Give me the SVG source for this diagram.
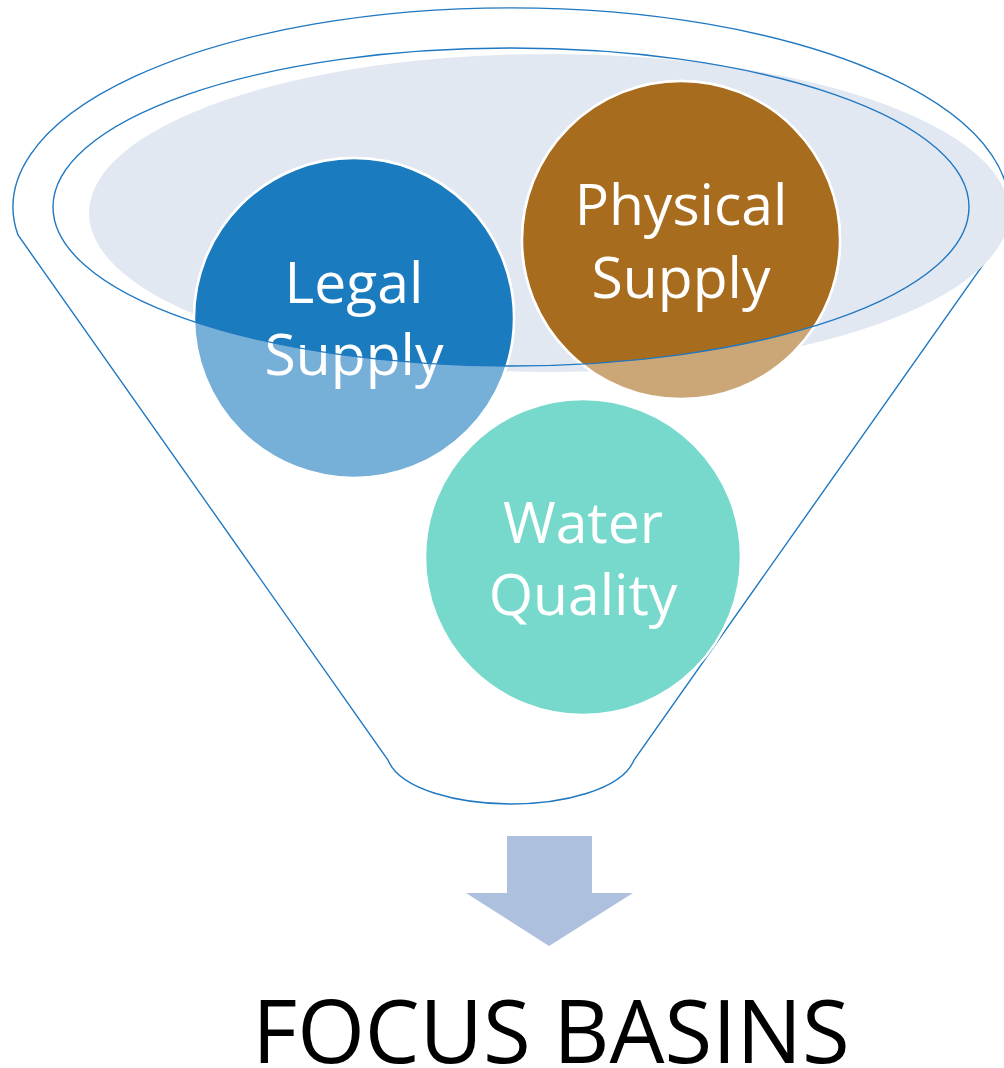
<svg xmlns="http://www.w3.org/2000/svg" width="1004" height="1068" viewBox="0 0 1004 1068">
  <style>
    .line { fill: none; stroke: #1f78c1; stroke-width: 1.4; }
    .lbl { font-family: "Open Sans", "Noto Sans", sans-serif; font-size: 57px; fill: #ffffff; text-anchor: middle; }
    .circ { stroke: #ffffff; stroke-width: 2.5; }
  </style>
  <defs>
    <clipPath id="inner">
      <ellipse cx="511" cy="207" rx="458" ry="159"/>
    </clipPath>
  </defs>
  <rect width="1004" height="1068" fill="#ffffff"/>
  <g id="funnel">
    <path class="line" d="M 18,235 A 498 199 0 1 1 1004,235 L 634,760 C 622,790 562,804 511,804 C 460,804 400,790 388,760 Z"/>
    <ellipse cx="549" cy="213" rx="460" ry="159" fill="#e2e8f2"/>
  </g>
  <g id="legal-supply">
    <circle class="circ" cx="354" cy="318" r="160" fill="#76b0d8"/>
    <circle class="circ" cx="354" cy="318" r="160" fill="#1b7bbf" clip-path="url(#inner)"/>
    <text class="lbl" x="354" y="303">Legal</text>
    <text class="lbl" x="354" y="375">Supply</text>
  </g>
  <g id="physical-supply">
    <circle class="circ" cx="681" cy="240" r="159" fill="#cba677"/>
    <circle class="circ" cx="681" cy="240" r="159" fill="#a86c1e" clip-path="url(#inner)"/>
    <text class="lbl" x="681" y="225">Physical</text>
    <text class="lbl" x="681" y="298">Supply</text>
  </g>
  <g id="water-quality">
    <circle class="circ" cx="583" cy="557" r="158" fill="#77d9cb"/>
    <text class="lbl" x="583" y="543">Water</text>
    <text class="lbl" x="583" y="615">Quality</text>
  </g>
  <g id="rim">
    <ellipse class="line" cx="511" cy="207" rx="458" ry="159"/>
  </g>
  <g id="connectors">
    <path d="M 507,836 L 592,836 L 592,893 L 633,893 L 549,946 L 466,893 L 507,893 Z" fill="#adc0de"/>
  </g>
  <g id="focus-basins">
    <text x="551" y="1063" font-family="'Open Sans', 'Noto Sans', sans-serif" font-size="87" fill="#000000" text-anchor="middle">FOCUS BASINS</text>
  </g>
</svg>
